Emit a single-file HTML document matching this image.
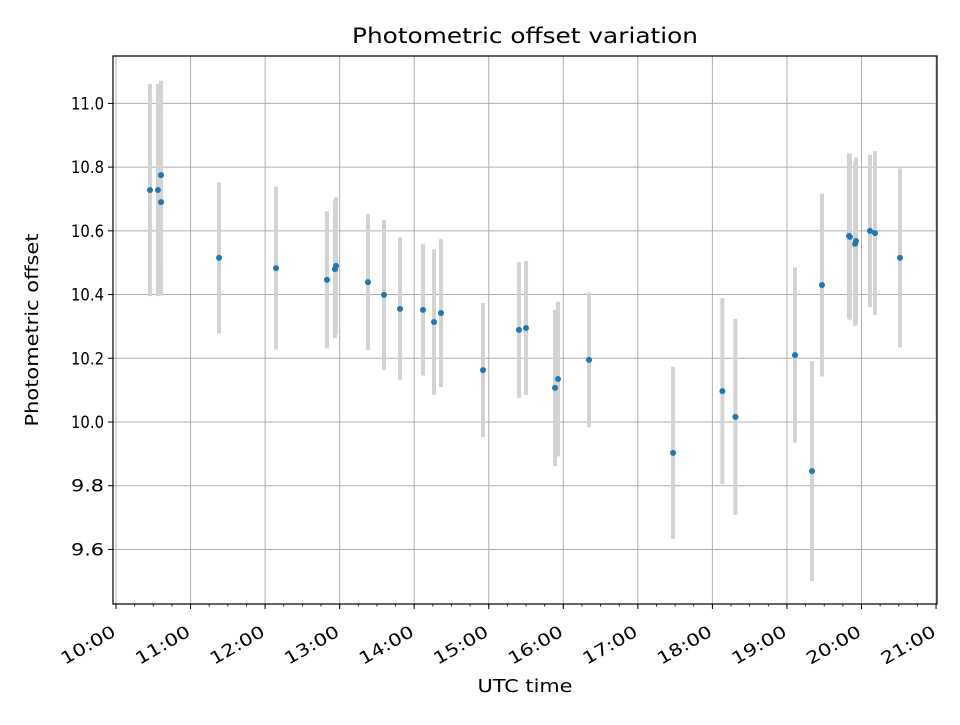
<!DOCTYPE html>
<html><head><meta charset="utf-8"><style>
body{margin:0;background:#fff;}
svg text{font-family:"DejaVu Sans","Liberation Sans",sans-serif;fill:#000;}
</style></head><body>
<svg id="chart" width="960" height="720" xmlns="http://www.w3.org/2000/svg">
<rect width="960" height="720" fill="#fff"/>
<text x="525" y="43" font-size="21" text-anchor="middle" textLength="346" lengthAdjust="spacingAndGlyphs">Photometric offset variation</text>
<text x="525" y="692" font-size="17.5" text-anchor="middle" textLength="95" lengthAdjust="spacingAndGlyphs">UTC time</text>
<text x="38" y="330" font-size="17.5" text-anchor="middle" textLength="193" lengthAdjust="spacingAndGlyphs" transform="rotate(-90 38 330)">Photometric offset</text>
<g id="grid"></g><g id="bars"></g><g id="pts"></g><g id="axes"></g>
</svg>
<script>
const times=[10.456,10.563,10.604,10.604,11.382,12.146,12.830,12.937,12.951,13.380,13.595,13.810,14.118,14.266,14.359,14.923,15.406,15.500,15.889,15.929,16.345,17.472,18.134,18.309,19.108,19.336,19.470,19.832,19.845,19.913,19.926,20.114,20.181,20.516];
const offsets=[10.728,10.728,10.775,10.690,10.515,10.483,10.446,10.480,10.490,10.439,10.399,10.355,10.352,10.314,10.342,10.163,10.289,10.295,10.107,10.135,10.195,9.903,10.097,10.016,10.210,9.846,10.430,10.584,10.581,10.559,10.568,10.600,10.593,10.515];
const errors=[0.333,0.333,0.296,0.293,0.237,0.256,0.215,0.217,0.215,0.213,0.235,0.224,0.206,0.228,0.232,0.210,0.213,0.210,0.245,0.243,0.212,0.270,0.292,0.308,0.275,0.345,0.287,0.259,0.26,0.257,0.262,0.239,0.257,0.281];
const yTicks=[9.6,9.8,10.0,10.2,10.4,10.6,10.8,11.0];
const xTicks=[10,11,12,13,14,15,16,17,18,19,20,21];
const NS='http://www.w3.org/2000/svg';
const L=113,R=937,T=56,B=604;
function sx(h){return 116+(h-10)*74.55;}
function sy(v){return 422-(v-10)*318.6;}
function mk(tag,attrs,parent){const e=document.createElementNS(NS,tag);for(const k in attrs)e.setAttribute(k,attrs[k]);document.getElementById(parent).appendChild(e);return e;}
yTicks.forEach(v=>{const y=sy(v);
 const g=mk('line',{x1:L,x2:R,y1:y,y2:y,stroke:'#b0b0b0','stroke-width':1},'grid');
 
 
 mk('line',{x1:L-5,x2:L,y1:y,y2:y,stroke:'#000'},'axes');
 const t=mk('text',{x:L-9,y:y+6,'font-size':17,'text-anchor':'end',textLength:33,lengthAdjust:'spacingAndGlyphs'},'axes');t.textContent=v.toFixed(1);
 
 
});
xTicks.forEach(h=>{const x=sx(h);
 const g=mk('line',{x1:x,x2:x,y1:T,y2:B,stroke:'#b0b0b0','stroke-width':1},'grid');
 
 
 mk('line',{x1:x,x2:x,y1:B,y2:B+5,stroke:'#000'},'axes');
 const ax=x+1, ay=B+31;
 const t=mk('text',{x:ax,y:ay,'font-size':17,'text-anchor':'end',textLength:60,lengthAdjust:'spacingAndGlyphs',transform:`rotate(-30 ${ax} ${ay})`},'axes');
 t.textContent=String(h).padStart(2,'0')+':00';
 
 
});
for(let h=10;h<21;h+=0.25){const x=sx(h);mk('line',{x1:x,x2:x,y1:B,y2:B+2.5,stroke:'#000','stroke-width':0.8},'axes');}
const frame=mk('rect',{x:L,y:T,width:R-L,height:B-T,fill:'none',stroke:'#000','stroke-width':1.2},'axes');


times.forEach((h,i)=>{const x=sx(h);
 const b=mk('line',{x1:x,x2:x,y1:sy(offsets[i]+errors[i]),y2:sy(offsets[i]-errors[i]),stroke:'#d3d3d3','stroke-width':4},'bars');
 
 
 const c=mk('circle',{cx:x,cy:sy(offsets[i]),r:3,fill:'#1f77b4'},'pts');
 
 
});
</script>
</body></html>
